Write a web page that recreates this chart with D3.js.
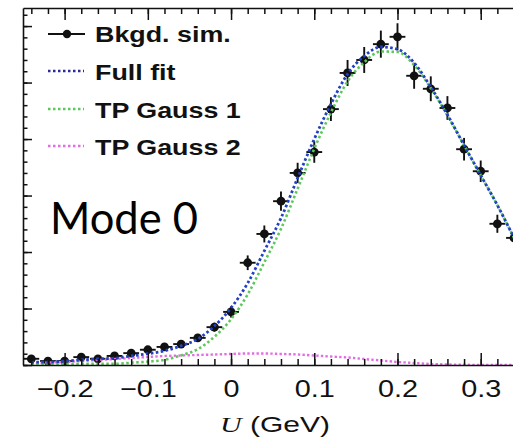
<!DOCTYPE html>
<html>
<head>
<meta charset="utf-8">
<script src="https://cdn.jsdelivr.net/npm/d3@7"></script>
<style>
body { margin: 0; background: #fff; }
svg { display: block; }
</style>
</head>
<body>
<div id="chart"></div>
<script>
// values (U in GeV, counts in arbitrary units)
var uVals = [-0.24, -0.22, -0.20, -0.18, -0.16, -0.14, -0.12, -0.10, -0.08, -0.06,
	-0.04, -0.02, 0.00, 0.02, 0.04, 0.06, 0.08, 0.10, 0.12, 0.14,
	0.16, 0.18, 0.20, 0.22, 0.24, 0.26, 0.28, 0.30, 0.32, 0.34];
var simCounts = [11, 7, 7, 14, 11, 16, 21, 27, 32, 37,
	48, 67, 94, 181, 232, 290, 340, 377, 453, 517,
	540, 568, 581, 512, 489, 455, 382, 343, 250, 225];
var simErrors = [3, 3, 3, 4, 3, 4, 5, 5, 6, 6,
	7, 8, 10, 13, 15, 17, 18, 19, 21, 23,
	23, 24, 24, 23, 22, 21, 20, 19, 16, 15];
var fullFit = [5, 5, 7, 9, 11, 12, 16, 20, 25, 34,
	46, 69, 101, 145, 202, 260, 331, 400, 462, 515,
	547, 563, 559, 535, 492, 443, 389, 336, 283, 225];
var gauss1 = [2, 1, 2, 2, 2, 2, 4, 6, 9, 17,
	28, 50, 81, 125, 182, 241, 312, 383, 447, 502,
	536, 555, 554, 531, 490, 442, 389, 336, 283, 225];
var gauss2 = [3.5, 4.4, 5.3, 7.1, 8.8, 10.6, 12.4, 14.2, 15.9, 16.8,
	17.7, 18.6, 19.5, 20.4, 20.4, 19.5, 18.6, 16.8, 15.0, 13.3,
	10.6, 8.0, 5.3, 3.5, 1.8, 0.9, 0.4, 0.2, 0.1, 0.0];
var xTicks = [-0.2, -0.1, 0, 0.1, 0.2, 0.3];
var yTicks = [0, 100, 200, 300, 400, 500, 600];
var legendLabels = ["Bkgd. sim.", "Full fit", "TP Gauss 1", "TP Gauss 2"];
var modeLabel = "Mode 0";

var width = 513, height = 440;
var plot = {left: 23, right: 514, top: 8, bottom: 365};
var colors = {fit: "#2140c4", g1: "#5cc85c", g2: "#e36ee3", legendFit: "#2a2a9c"};

var svg = d3.select("#chart").append("svg")
	.attr("width", width)
	.attr("height", height);

var x = d3.scaleLinear().domain([-0.25, 0.34]).range([plot.left, plot.right]);
var y = d3.scaleLinear().domain([0, 632]).range([plot.bottom, plot.top]);

// squeeze/stretch text like the scaled original image
function stretch(sel, f) {
	sel.each(function() {
		var w = this.getComputedTextLength();
		d3.select(this).attr("textLength", w * f).attr("lengthAdjust", "spacingAndGlyphs");
	});
}

svg.append("defs").append("clipPath").attr("id", "clip")
	.append("rect")
	.attr("x", plot.left).attr("y", plot.top)
	.attr("width", plot.right - plot.left).attr("height", plot.bottom - plot.top);

//data points with error bars
var pts = svg.append("g").attr("clip-path", "url(#clip)");
var pt = pts.selectAll("g").data(uVals).enter().append("g");
pt.append("line")
	.attr("x1", d => x(d)).attr("x2", d => x(d))
	.attr("y1", (d, i) => y(simCounts[i] - simErrors[i]))
	.attr("y2", (d, i) => y(simCounts[i] + simErrors[i]))
	.attr("stroke", "#111").attr("stroke-width", 1.9);
pt.append("line")
	.attr("x1", d => x(d - 0.0095)).attr("x2", d => x(d + 0.0095))
	.attr("y1", (d, i) => y(simCounts[i]))
	.attr("y2", (d, i) => y(simCounts[i]))
	.attr("stroke", "#111").attr("stroke-width", 1.9);
pt.append("circle")
	.attr("cx", d => x(d)).attr("cy", (d, i) => y(simCounts[i]))
	.attr("r", 4.4).attr("fill", "#111");

//fit curves
function curveLine(vals) {
	return d3.line()
		.x((d, i) => x(uVals[i]))
		.y(d => y(d))
		.curve(d3.curveMonotoneX)(vals);
}
var curves = svg.append("g").attr("clip-path", "url(#clip)");
curves.append("path").attr("d", curveLine(gauss2))
	.attr("fill", "none").attr("stroke", colors.g2)
	.attr("stroke-width", 2.4).attr("stroke-dasharray", "2.4 2.2");
curves.append("path").attr("d", curveLine(gauss1))
	.attr("fill", "none").attr("stroke", colors.g1)
	.attr("stroke-width", 2.6).attr("stroke-dasharray", "2.5 2.5");
curves.append("path").attr("d", curveLine(fullFit))
	.attr("fill", "none").attr("stroke", colors.fit)
	.attr("stroke-width", 2.8).attr("stroke-dasharray", "2.6 2.4");

//axes
var fmt = d => d === 0 ? "0" : d3.format(".1f")(d);
var minorX = d3.range(-0.24, 0.35, 0.02);
var minorY = d3.range(0, 640, 20);

var bottom = svg.append("g")
	.attr("transform", "translate(0," + plot.bottom + ")")
	.call(d3.axisBottom(x).tickValues(xTicks).tickFormat(fmt).tickSize(-12).tickSizeOuter(0).tickPadding(15));
svg.append("g")
	.attr("transform", "translate(0," + plot.bottom + ")")
	.call(d3.axisBottom(x).tickValues(minorX).tickFormat("").tickSize(-6).tickSizeOuter(0))
	.select(".domain").remove();
bottom.selectAll("text")
	.attr("font-family", "'Liberation Sans', Arial, sans-serif")
	.attr("font-size", 24).attr("fill", "#111");
stretch(bottom.selectAll("text"), 1.2);

svg.append("g")
	.attr("transform", "translate(0," + plot.top + ")")
	.call(d3.axisTop(x).tickValues(xTicks).tickFormat("").tickSize(-12).tickSizeOuter(0));
svg.append("g")
	.attr("transform", "translate(0," + plot.top + ")")
	.call(d3.axisTop(x).tickValues(minorX).tickFormat("").tickSize(-6).tickSizeOuter(0))
	.select(".domain").remove();

svg.append("g")
	.attr("transform", "translate(" + plot.left + ",0)")
	.call(d3.axisLeft(y).tickValues(yTicks).tickFormat("").tickSize(-9).tickSizeOuter(0));
svg.append("g")
	.attr("transform", "translate(" + plot.left + ",0)")
	.call(d3.axisLeft(y).tickValues(minorY).tickFormat("").tickSize(-4.5).tickSizeOuter(0))
	.select(".domain").remove();

svg.selectAll(".domain").attr("stroke", "#111").attr("stroke-width", 1.6);
svg.selectAll(".tick line").attr("stroke", "#111").attr("stroke-width", 1.5);

//axis title
var title = svg.append("text")
	.attr("x", 220).attr("y", 432)
	.attr("font-size", 22).attr("fill", "#111")
	.attr("textLength", 110).attr("lengthAdjust", "spacingAndGlyphs");
title.append("tspan").attr("font-family", "'Liberation Serif', serif").attr("font-style", "italic").text("U");
title.append("tspan").attr("font-family", "'Liberation Sans', Arial, sans-serif").text(" (GeV)");

//legend
var rowY = [42, 80, 118, 155];
var legend = svg.append("g");
legend.append("line")
	.attr("x1", 48).attr("x2", 85).attr("y1", rowY[0] - 8).attr("y2", rowY[0] - 8)
	.attr("stroke", "#111").attr("stroke-width", 2);
legend.append("circle").attr("cx", 67).attr("cy", rowY[0] - 8).attr("r", 4.2).attr("fill", "#111");
[colors.legendFit, colors.g1, colors.g2].forEach(function(c, i) {
	legend.append("line")
		.attr("x1", 48).attr("x2", 84)
		.attr("y1", rowY[i + 1] - 9).attr("y2", rowY[i + 1] - 9)
		.attr("stroke", c).attr("stroke-width", 2.6)
		.attr("stroke-dasharray", "2.5 2.5");
});
var labels = legend.selectAll(".lab").data(legendLabels).enter().append("text")
	.attr("class", "lab")
	.attr("x", 95).attr("y", (d, i) => rowY[i])
	.attr("font-family", "'Liberation Sans', Arial, sans-serif")
	.attr("font-weight", "bold").attr("font-size", 22).attr("fill", "#111")
	.text(d => d);
stretch(labels, 1.22);

//mode label
svg.append("text")
	.attr("x", 50).attr("y", 234)
	.attr("font-family", "Lato, 'Open Sans', sans-serif")
	.attr("font-size", 45).attr("fill", "#000")
	.attr("textLength", 148).attr("lengthAdjust", "spacingAndGlyphs")
	.text(modeLabel);
</script>
</body>
</html>
